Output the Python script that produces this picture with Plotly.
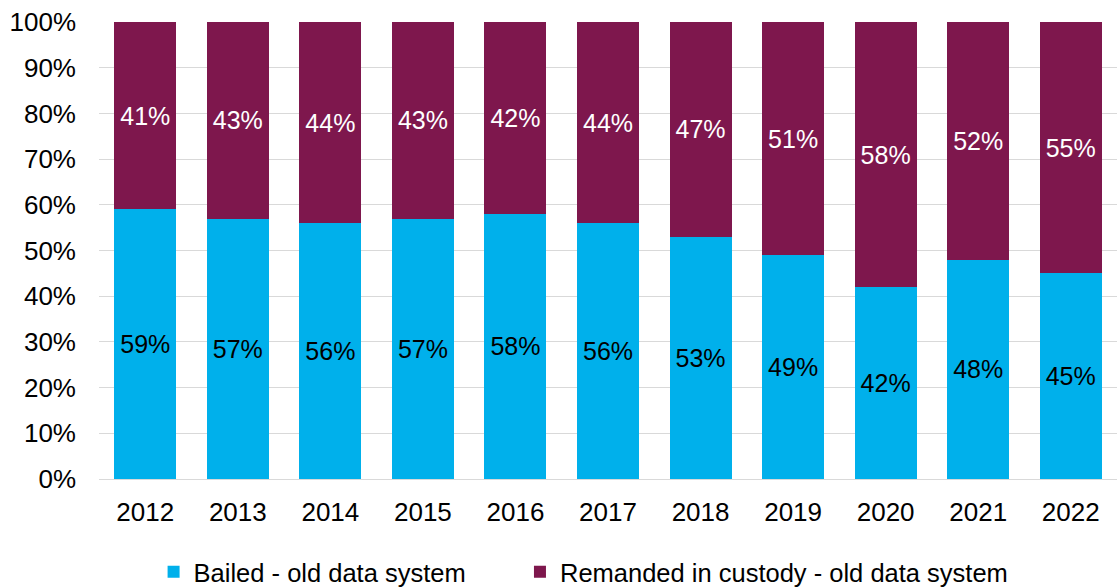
import plotly.graph_objects as go

# Share of defendants bailed vs remanded in custody, by year
years = ["2012", "2013", "2014", "2015", "2016", "2017", "2018", "2019", "2020", "2021", "2022"]
bailed = [59, 57, 56, 57, 58, 56, 53, 49, 42, 48, 45]
remanded = [41, 43, 44, 43, 42, 44, 47, 51, 58, 52, 55]
y_ticks = [0, 10, 20, 30, 40, 50, 60, 70, 80, 90, 100]

BLUE = "#00B0EB"
MAROON = "#7E174D"
FONT = "Liberation Sans, Arial, sans-serif"

fig = go.Figure()
fig.add_trace(go.Bar(
    x=years, y=bailed, name="Bailed - old data system",
    marker=dict(color=BLUE, line=dict(width=0)),
    text=[f"{v}%" for v in bailed], textposition="inside",
    insidetextanchor="middle", constraintext="none",
    textfont=dict(color="#000000", size=25, family=FONT),
    hoverinfo="skip", legend="legend",
))
fig.add_trace(go.Bar(
    x=years, y=remanded, name="Remanded in custody - old data system",
    marker=dict(color=MAROON, line=dict(width=0)),
    text=[f"{v}%" for v in remanded], textposition="inside",
    insidetextanchor="middle", constraintext="none",
    textfont=dict(color="#FFFFFF", size=25, family=FONT),
    hoverinfo="skip", legend="legend2",
))

legend_common = dict(
    orientation="h", xref="container", yref="container",
    xanchor="left", y=0.027, yanchor="middle",
    font=dict(size=25.5, color="#000000"), itemwidth=30,
    bgcolor="rgba(0,0,0,0)",
)

fig.update_layout(
    width=1117, height=588,
    barmode="stack", bargap=0.33,
    margin=dict(l=99, r=0, t=22, b=109, autoexpand=False),
    paper_bgcolor="white", plot_bgcolor="white",
    font=dict(family=FONT, size=26, color="#000000"),
    showlegend=True,
    legend=dict(x=0.1375, **legend_common),
    legend2=dict(x=0.4655, **legend_common),
)
fig.update_yaxes(
    range=[0, 100], tickvals=y_ticks, ticktext=[f"{v}%" for v in y_ticks],
    showgrid=True, gridcolor="#D9D9D9", gridwidth=1,
    zeroline=False, showline=False, ticks="", ticklabelstandoff=22,
    tickfont=dict(size=26),
)
fig.update_xaxes(
    showline=True, linecolor="#D9D9D9", linewidth=1, ticks="",
    ticklabelstandoff=10, tickfont=dict(size=26),
)

fig.write_html("out.html")
